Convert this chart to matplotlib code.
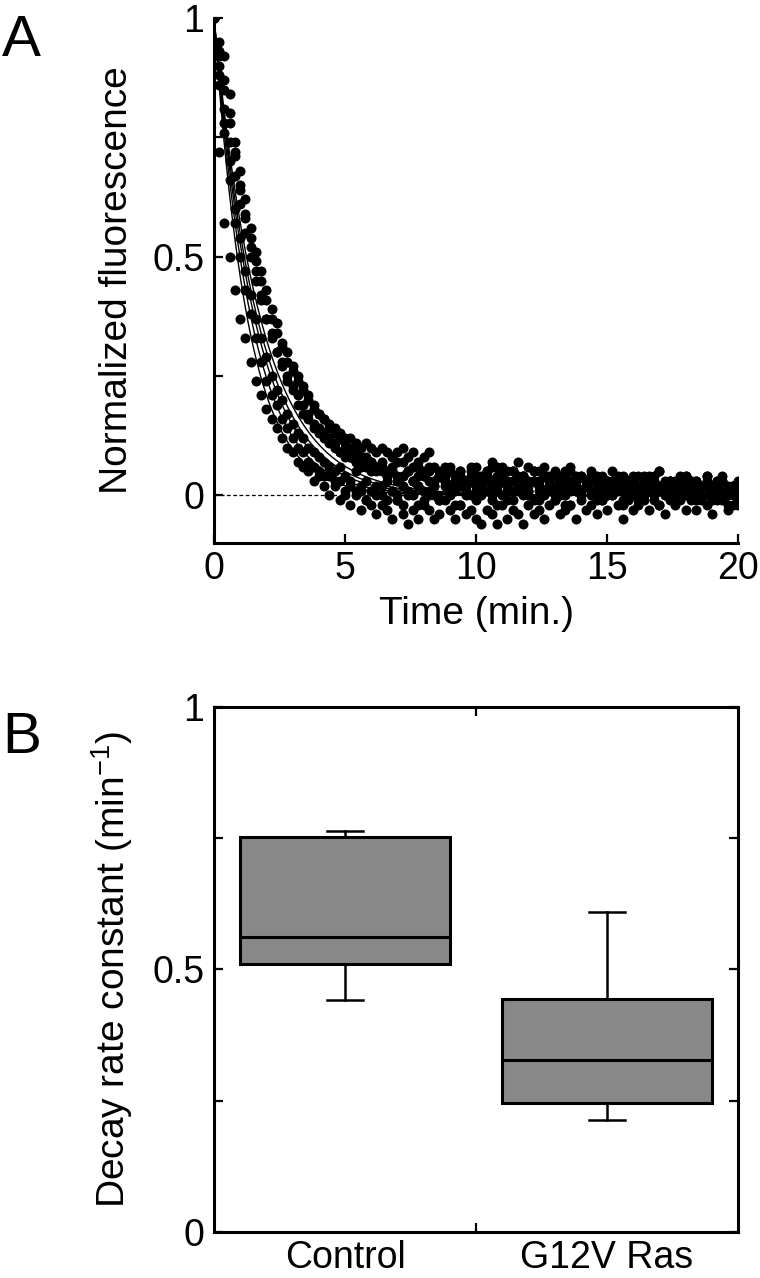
import numpy as np
import matplotlib
matplotlib.use("Agg")
import matplotlib.pyplot as plt
from matplotlib.ticker import MultipleLocator

plt.rcParams['font.family'] = ['Liberation Sans', 'DejaVu Sans']
plt.rcParams['mathtext.default'] = 'regular'

# --- panel A: normalized fluorescence traces, sampled every 0.2 min ---
time_min = np.arange(0, 20.01, 0.2)

trace_1 = [1.0, 0.72, 0.57, 0.50, 0.43, 0.37, 0.33, 0.28, 0.24, 0.21, 0.18,
           0.16, 0.14, 0.12, 0.10, 0.09, 0.07, 0.06, 0.05, 0.03, 0.04,
           0.02, 0.00, 0.03, -0.01, 0.00, -0.02, 0.01, -0.03, -0.01, -0.02,
           -0.04, -0.02, -0.03, -0.05, -0.01, -0.04, -0.06, -0.03, -0.05, -0.02,
           -0.03, -0.05, -0.04, -0.01, -0.03, -0.05, -0.02, -0.04, -0.03, -0.05,
           -0.06, -0.03, -0.04, -0.06, -0.02, -0.05, -0.03, -0.04, -0.06, -0.02,
           -0.04, -0.03, -0.05, -0.02, -0.01, -0.04, -0.03, -0.02, -0.05, -0.01,
           -0.03, -0.02, -0.04, -0.01, -0.03, 0.00, -0.02, -0.05, -0.01, -0.03,
           -0.02, -0.01, -0.03, 0.00, -0.02, -0.04, -0.01, -0.02, 0.01, -0.03,
           -0.01, -0.03, 0.00, -0.02, -0.04, -0.01, 0.00, -0.03, -0.02, -0.01]

trace_2 = [1.0, 0.88, 0.76, 0.66, 0.57, 0.50, 0.43, 0.38, 0.33, 0.28, 0.24,
           0.21, 0.19, 0.16, 0.14, 0.12, 0.10, 0.09, 0.07, 0.06, 0.05,
           0.04, 0.04, 0.02, 0.03, 0.01, 0.02, 0.00, 0.01, -0.01, 0.01,
           0.00, 0.02, -0.01, 0.01, 0.00, -0.02, 0.01, 0.00, 0.02, -0.01,
           0.01, 0.00, -0.01, 0.02, 0.00, 0.01, -0.02, 0.01, 0.00, 0.02,
           0.00, 0.01, -0.01, 0.02, 0.00, -0.01, 0.01, 0.03, 0.00, 0.01,
           -0.01, 0.01, 0.00, 0.02, -0.01, 0.00, 0.01, -0.02, 0.01, 0.00,
           0.02, 0.00, 0.01, -0.01, 0.00, 0.02, 0.01, -0.01, 0.00, 0.01,
           -0.01, 0.00, 0.02, 0.01, -0.02, 0.00, 0.01, -0.01, 0.02, 0.00,
           0.01, -0.01, 0.00, 0.02, -0.01, 0.01, 0.00, -0.02, 0.01, 0.00]

trace_3 = [1.0, 0.95, 0.92, 0.84, 0.72, 0.64, 0.58, 0.52, 0.47, 0.42, 0.37,
           0.33, 0.30, 0.27, 0.24, 0.22, 0.19, 0.17, 0.16, 0.14, 0.13,
           0.12, 0.11, 0.10, 0.09, 0.08, 0.08, 0.07, 0.06, 0.07, 0.05,
           0.06, 0.05, 0.04, 0.05, 0.03, 0.04, 0.05, 0.03, 0.02, 0.04,
           0.03, 0.02, 0.04, 0.03, 0.01, 0.03, 0.04, 0.02, 0.03, 0.01,
           0.02, 0.04, 0.03, 0.01, 0.03, 0.02, 0.05, 0.02, 0.03, 0.01,
           0.03, 0.02, 0.04, 0.01, 0.02, 0.03, 0.00, 0.02, 0.04, 0.01,
           0.02, 0.03, 0.01, 0.02, 0.00, 0.03, 0.02, 0.01, 0.03, 0.02,
           0.01, 0.02, 0.03, 0.00, 0.02, 0.01, 0.03, 0.02, 0.00, 0.02,
           0.03, 0.01, 0.02, 0.00, 0.02, 0.03, 0.01, 0.02, 0.00, 0.01]

trace_4 = [1.0, 0.92, 0.85, 0.78, 0.71, 0.65, 0.59, 0.54, 0.49, 0.45, 0.41,
           0.37, 0.34, 0.31, 0.28, 0.26, 0.24, 0.22, 0.20, 0.18, 0.17,
           0.16, 0.15, 0.14, 0.13, 0.12, 0.12, 0.11, 0.10, 0.11, 0.10,
           0.09, 0.10, 0.09, 0.08, 0.09, 0.10, 0.08, 0.09, 0.07, 0.08,
           0.09, 0.06, 0.04, 0.03, 0.05, 0.02, 0.04, 0.03, 0.05, 0.02,
           0.04, 0.03, 0.06, 0.02, 0.04, 0.05, 0.03, 0.07, 0.04, 0.02,
           0.05, 0.03, 0.06, 0.02, 0.04, 0.03, 0.05, 0.01, 0.03, 0.04,
           0.02, 0.05, 0.03, 0.04, 0.01, 0.03, 0.02, 0.04, 0.02, 0.03,
           0.04, 0.01, 0.03, 0.02, 0.05, 0.02, 0.03, 0.00, 0.02, 0.04,
           0.01, 0.03, 0.02, 0.04, 0.01, 0.02, 0.03, 0.00, 0.02, 0.01]

trace_5 = [1.0, 0.90, 0.81, 0.74, 0.67, 0.61, 0.55, 0.50, 0.45, 0.41, 0.37,
           0.34, 0.30, 0.28, 0.25, 0.23, 0.21, 0.19, 0.17, 0.15, 0.14,
           0.13, 0.12, 0.11, 0.09, 0.10, 0.08, 0.07, 0.08, 0.06, 0.07,
           0.05, 0.06, 0.04, 0.05, 0.07, 0.04, 0.05, 0.03, 0.06, 0.04,
           0.05, 0.03, 0.04, 0.06, 0.02, 0.04, 0.05, 0.03, 0.06, 0.04,
           0.03, 0.05, 0.07, 0.04, 0.06, 0.03, 0.05, 0.02, 0.04, 0.06,
           0.03, 0.05, 0.04, 0.02, 0.05, 0.03, 0.04, 0.06, 0.02, 0.04,
           0.03, 0.01, 0.04, 0.02, 0.03, 0.05, 0.02, 0.03, 0.01, 0.04,
           0.02, 0.04, 0.01, 0.03, 0.05, 0.02, 0.01, 0.03, 0.04, 0.02,
           0.03, 0.01, 0.02, 0.04, 0.02, 0.00, 0.03, 0.01, 0.02, 0.03]

trace_6 = [1.0, 0.86, 0.78, 0.70, 0.60, 0.54, 0.47, 0.42, 0.37, 0.33, 0.29,
           0.25, 0.22, 0.20, 0.17, 0.15, 0.13, 0.12, 0.10, 0.09, 0.08,
           0.07, 0.06, 0.05, 0.06, 0.04, 0.03, 0.05, 0.02, 0.03, 0.01,
           0.02, 0.00, 0.03, 0.01, -0.01, 0.02, 0.00, 0.03, -0.02, 0.01,
           0.00, 0.02, -0.01, 0.03, 0.01, -0.02, 0.02, 0.00, 0.03, -0.01,
           0.02, 0.04, 0.00, -0.02, 0.03, 0.01, -0.01, 0.04, 0.02, 0.00,
           0.03, -0.01, 0.01, 0.04, 0.00, 0.02, -0.02, 0.03, 0.01, 0.00,
           0.02, 0.04, -0.01, 0.01, 0.03, 0.00, 0.02, -0.02, 0.01, 0.03,
           0.00, 0.02, 0.04, -0.01, 0.01, 0.03, 0.00, 0.02, -0.01, 0.03,
           0.01, 0.03, -0.01, 0.02, 0.00, 0.03, -0.01, 0.01, 0.02, -0.02]

trace_7 = [1.0, 0.93, 0.87, 0.80, 0.74, 0.68, 0.62, 0.56, 0.51, 0.47, 0.43,
           0.39, 0.36, 0.32, 0.30, 0.27, 0.25, 0.23, 0.21, 0.19, 0.17,
           0.16, 0.14, 0.13, 0.12, 0.11, 0.10, 0.09, 0.08, 0.08, 0.07,
           0.06, 0.07, 0.05, 0.06, 0.04, 0.07, 0.05, 0.06, 0.04, 0.05,
           0.06, 0.03, 0.05, 0.04, 0.06, 0.02, 0.05, 0.03, 0.04, 0.06,
           0.03, 0.05, 0.02, 0.06, 0.04, 0.03, 0.05, 0.01, 0.04, 0.03,
           0.05, 0.02, 0.04, 0.03, 0.01, 0.04, 0.02, 0.05, 0.03, 0.01,
           0.03, 0.04, 0.02, 0.00, 0.03, 0.01, 0.04, 0.02, 0.03, 0.00,
           0.02, 0.03, 0.01, 0.04, 0.02, 0.00, 0.03, 0.01, 0.02, 0.04,
           0.01, 0.02, 0.00, 0.03, 0.01, 0.02, 0.04, 0.00, 0.02, 0.01]

traces = [trace_1, trace_2, trace_3, trace_4, trace_5, trace_6, trace_7]

# single-exponential fits, decay rate constants (1/min)
fit_rates = [0.78, 0.70, 0.64, 0.60, 0.56]

# --- panel B: box plot of decay rate constants ---
groups = ["Control", "G12V Ras"]
whisker_low = [0.441, 0.213]
box_low = [0.510, 0.245]
medians = [0.561, 0.328]
box_high = [0.752, 0.444]
whisker_high = [0.763, 0.610]

fig = plt.figure(figsize=(7.6, 12.78), dpi=100)
axA = fig.add_axes([0.2816, 0.5751, 0.6895, 0.4108])
axB = fig.add_axes([0.2816, 0.0360, 0.6895, 0.4108])

# panel A
for tr in traces:
    axA.scatter(time_min, tr, s=52, color='black', linewidths=0, zorder=2)
t_fit = np.linspace(0, 20, 400)
for k in fit_rates:
    axA.plot(t_fit, np.exp(-k * t_fit), color='black', lw=1.0, zorder=3)
axA.axhline(0, color='black', lw=0.9, ls=(0, (3, 2)), zorder=1)

axA.set_xlim(0, 20)
axA.set_ylim(-0.1, 1.0)
axA.spines['top'].set_visible(False)
axA.spines['right'].set_visible(False)
axA.set_xticks([0, 5, 10, 15, 20])
axA.set_yticks([0, 0.5, 1])
axA.set_yticklabels(['0', '0.5', '1'])
axA.yaxis.set_minor_locator(MultipleLocator(0.25))
axA.set_xlabel('Time (min.)', fontsize=28, labelpad=6)
axA.set_ylabel('Normalized fluorescence', fontsize=28)
axA.yaxis.set_label_coords(-0.15, 0.5)

# panel B
stats = []
for i in range(len(groups)):
    stats.append(dict(whislo=whisker_low[i], q1=box_low[i], med=medians[i],
                      q3=box_high[i], whishi=whisker_high[i], fliers=[]))
axB.bxp(stats, positions=[1, 2], widths=0.8, capwidths=0.14, patch_artist=True,
        showfliers=False,
        boxprops=dict(facecolor='#888888', edgecolor='black', lw=2.2),
        medianprops=dict(color='black', lw=2.2),
        whiskerprops=dict(color='black', lw=1.8),
        capprops=dict(color='black', lw=1.8))

axB.set_xlim(0.5, 2.5)
axB.set_ylim(0, 1)
axB.set_xticks([1, 2])
axB.set_xticklabels(groups)
axB.set_xticks([1.5], minor=True)
axB.set_yticks([0, 0.5, 1])
axB.set_yticklabels(['0', '0.5', '1'])
axB.yaxis.set_minor_locator(MultipleLocator(0.25))
axB.set_ylabel('Decay rate constant (min$^{-1}$)', fontsize=28)
axB.yaxis.set_label_coords(-0.15, 0.5)

for ax in (axA, axB):
    for sp in ax.spines.values():
        sp.set_linewidth(2.2)
    ax.tick_params(which='both', direction='in', width=1.6, length=6.5,
                   labelsize=27)
    ax.tick_params(axis='y', which='both', pad=7)
    ax.tick_params(axis='x', which='both', pad=6)

axB.tick_params(axis='x', which='major', length=0, pad=6)
axB.tick_params(axis='x', which='minor', top=True)
axB.tick_params(axis='y', which='both', right=True)

fig.text(0.003, 0.968, 'A', fontsize=42, ha='left', va='center')
fig.text(0.003, 0.4225, 'B', fontsize=42, ha='left', va='center')

fig.savefig('out.png', dpi=100)
